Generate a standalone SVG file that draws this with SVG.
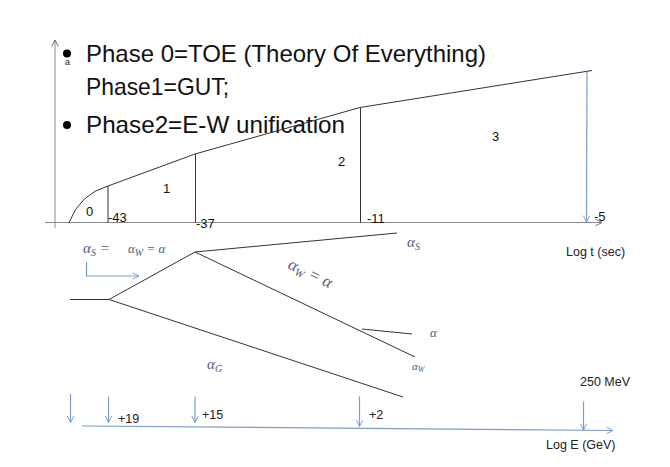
<svg xmlns="http://www.w3.org/2000/svg" width="670" height="467" viewBox="0 0 670 467">
<defs>
<style>
.big{font-family:"Liberation Sans","Open Sans",sans-serif;font-size:24px;fill:#111}
.num{font-family:"Liberation Sans","Open Sans",sans-serif;font-size:13px;fill:#111}
.lab{font-family:"Liberation Sans","Open Sans",sans-serif;font-size:12.5px;fill:#222}
.math{font-family:"Liberation Serif","DejaVu Serif",serif;font-style:italic;font-size:15px;fill:#555a78}
.sub{font-size:10px}
.ln{stroke:#333;stroke-width:1;fill:none}
.ax{stroke:#888;stroke-width:1;fill:none}
.bl{stroke:#7b9ccf;stroke-width:1.2;fill:none}
</style>
<marker id="ba" viewBox="0 0 10 10" refX="9" refY="5" markerWidth="8" markerHeight="8" orient="auto" markerUnits="userSpaceOnUse">
<path d="M1,1 L9,5 L1,9" fill="none" stroke="#7b9ccf" stroke-width="1.2"/>
</marker>
<marker id="ga" viewBox="0 0 10 10" refX="9" refY="5" markerWidth="8" markerHeight="8" orient="auto" markerUnits="userSpaceOnUse">
<path d="M1,1 L9,5 L1,9" fill="none" stroke="#666" stroke-width="1.2"/>
</marker>
</defs>
<rect width="670" height="467" fill="#fff"/>

<g id="title">
<circle cx="67" cy="53.5" r="4" fill="#000"/>
<text class="big" x="86" y="62" textLength="400" lengthAdjust="spacingAndGlyphs">Phase 0=TOE (Theory Of Everything)</text>
<text class="big" x="86" y="95" textLength="143" lengthAdjust="spacingAndGlyphs">Phase1=GUT;</text>
<circle cx="67" cy="125" r="4" fill="#000"/>
<text class="big" x="86" y="133" textLength="259" lengthAdjust="spacingAndGlyphs">Phase2=E-W unification</text>
</g>

<g id="time-axes">
<line class="ax" x1="55" y1="228" x2="55" y2="40" marker-end="url(#ga)"/>
<text class="lab" x="65" y="65" style="font-size:9px">a</text>
<line class="ax" x1="45" y1="222.5" x2="602" y2="222.5" marker-end="url(#ga)"/>
<text class="lab" x="566" y="256">Log t (sec)</text>
</g>

<g id="curve">
<path class="ln" d="M69,222.5 Q80,194 108,186 L195,154 L360,107.5 L592,70.5"/>
<line class="ln" x1="108" y1="186" x2="108" y2="222.5"/>
<line class="ln" x1="195.5" y1="154" x2="195.5" y2="222.5"/>
<line class="ln" x1="360.5" y1="107.5" x2="360.5" y2="222.5"/>
<line class="bl" x1="587" y1="72" x2="586.5" y2="222" marker-end="url(#ba)"/>
</g>

<g id="phase-labels">
<text class="num" x="86" y="216">0</text>
<text class="num" x="163" y="193">1</text>
<text class="num" x="338" y="166">2</text>
<text class="num" x="492" y="141">3</text>
<text class="num" x="108" y="222">-43</text>
<text class="num" x="196" y="228">-37</text>
<text class="num" x="367" y="223">-11</text>
<text class="num" x="594" y="221">-5</text>
</g>

<g id="couplings">
<text class="math" x="83" y="253">α<tspan class="sub" dy="3">S</tspan><tspan dy="-3"> =  </tspan></text>
<text class="math" x="128" y="253" style="font-size:13px">α<tspan class="sub" dy="3">W</tspan><tspan dy="-3"> = α</tspan></text>
<path class="bl" d="M86.5,262 L86.5,276 L139,276" marker-end="url(#ba)"/>
<polyline class="ln" points="70,299.5 109,299.5 195,252 397,233"/>
<line class="ln" x1="195" y1="252" x2="415" y2="357"/>
<line class="ln" x1="362" y1="329" x2="412" y2="334"/>
<line class="ln" x1="109" y1="299.5" x2="403" y2="397"/>
<text class="math" x="407" y="247">α<tspan class="sub" dy="3">S</tspan></text>
<text class="math" style="font-size:17px" transform="translate(287,268) rotate(25.5)">α<tspan class="sub" dy="3" style="font-size:11px">W</tspan><tspan dy="-3"> =  α</tspan></text>
<text class="math" x="430" y="337" style="font-size:13px">α</text>
<text class="math" x="412" y="370" style="font-size:11px">α<tspan class="sub" dy="2" style="font-size:8px">W</tspan></text>
<text class="math" x="207" y="369">α<tspan class="sub" dy="3">G</tspan></text>
</g>

<g id="energy-axis">
<line class="bl" x1="82" y1="426" x2="613" y2="430.5" marker-end="url(#ba)"/>
<line class="bl" x1="70.5" y1="394" x2="70.5" y2="422.5" marker-end="url(#ba)"/>
<line class="bl" x1="108.5" y1="396.5" x2="108.5" y2="422.5" marker-end="url(#ba)"/>
<line class="bl" x1="195" y1="396.5" x2="195" y2="422.5" marker-end="url(#ba)"/>
<line class="bl" x1="359.5" y1="396.5" x2="359.5" y2="426.5" marker-end="url(#ba)"/>
<line class="bl" x1="583.5" y1="401.5" x2="583.5" y2="430" marker-end="url(#ba)"/>
<text class="lab" x="118" y="423">+19</text>
<text class="lab" x="202" y="419">+15</text>
<text class="lab" x="369" y="419">+2</text>
<text class="lab" x="580" y="386">250 MeV</text>
<text class="lab" x="546" y="449">Log E (GeV)</text>
</g>
</svg>
